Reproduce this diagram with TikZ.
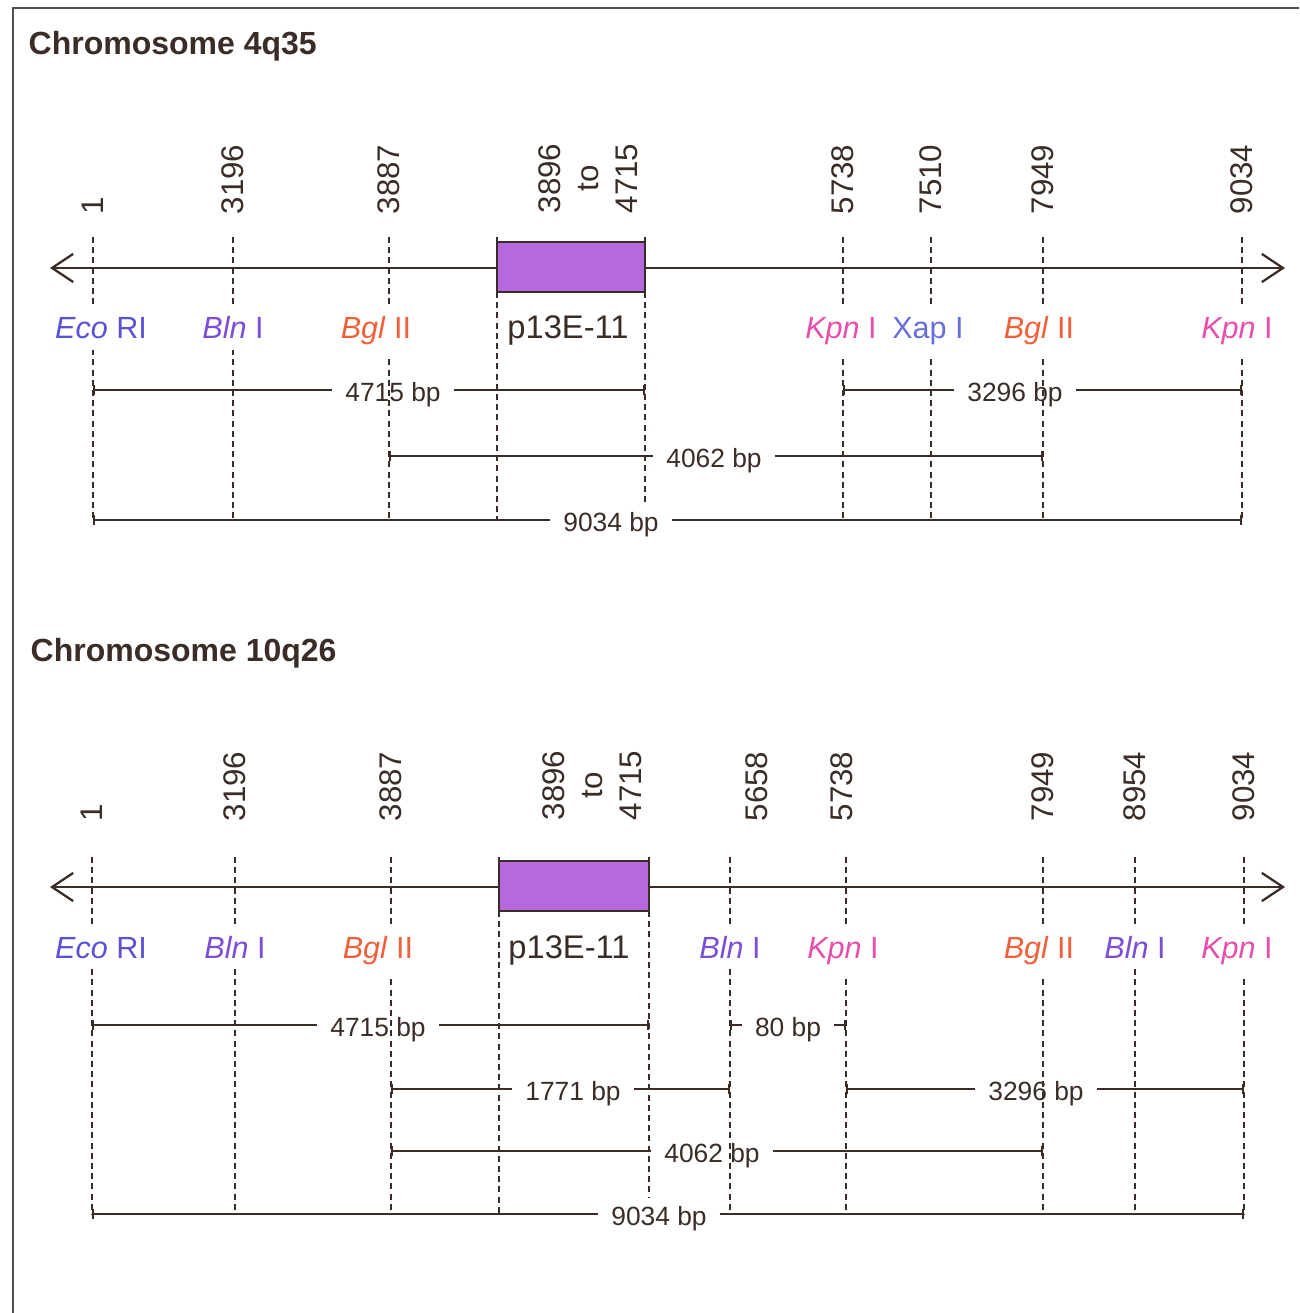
\documentclass[tikz,border=0pt]{standalone}
\usepackage{fontspec}
\setmainfont{Liberation Sans}
\usetikzlibrary{arrows.meta}

\definecolor{ink}{RGB}{58,45,40}
\definecolor{framegray}{RGB}{80,78,78}
\definecolor{genefill}{RGB}{182,104,222}
\definecolor{ecoc}{RGB}{92,82,212}
\definecolor{blnc}{RGB}{124,78,214}
\definecolor{bglc}{RGB}{240,96,58}
\definecolor{kpnc}{RGB}{232,78,172}
\definecolor{xapc}{RGB}{104,112,216}

\begin{document}
\begin{tikzpicture}[x=0.01cm,y=-0.01cm,
  siteline/.style={ink, line width=0.6pt, dash pattern=on 1.7pt off 1.2pt},
  boxedge/.style={ink, line width=0.8pt},
  axisline/.style={ink, line width=0.65pt,
    {Straight Barb[length=6pt,width=8pt,line width=0.65pt]}-{Straight Barb[length=6pt,width=8pt,line width=0.65pt]}},
  genebox/.style={draw=ink, line width=0.8pt, fill=genefill},
  spanline/.style={ink, line width=0.6pt},
  spanstart/.style={spanline, {Bar[width=2.6pt,line width=0.6pt]}-},
  spanend/.style={spanline, -{Bar[width=2.6pt,line width=0.6pt]}},
  maptitle/.style={font=\bfseries\fontsize{9.1}{11}\selectfont, text=ink, anchor=base west, inner sep=0},
  sitepos/.style={font=\fontsize{8.9}{11}\selectfont, text=ink, rotate=90, anchor=west, inner sep=0, align=center},
  enzyme/.style={font=\fontsize{8.7}{10}\selectfont, anchor=base, fill=white, inner xsep=1pt, inner ysep=3pt},
  probe/.style={font=\fontsize{9.3}{11}\selectfont, text=ink, anchor=base, fill=white, inner sep=2pt},
  bplabel/.style={font=\fontsize{7.5}{9}\selectfont, text=ink, anchor=mid, inner xsep=3.5pt, inner ysep=0pt},
]
\useasboundingbox (0,0) rectangle (1299,1313);

% outer frame
\draw[framegray, line width=0.6pt] (13,1313) -- (13,8) -- (1299,8);

% ================= Chromosome 4q35 =================
\node[maptitle] (titleA) at (28,55) {Chromosome 4q35};

\foreach \n/\x in {1/93, 2/233, 3/389, 4/497, 5/645, 6/843, 7/931, 8/1043, 9/1242} {
  \coordinate (At\n) at (\x,237);
  \coordinate (Am\n) at (\x,292);
  \coordinate (Ab\n) at (\x,520);
}
\coordinate (Ab5) at (645,506);

% restriction sites
\foreach \n in {1,2,3,6,7,8,9} { \draw[siteline] (At\n) -- (Ab\n); }
\foreach \n in {4,5} { \draw[siteline] (Am\n) -- (Ab\n); }

% map axis and probe
\coordinate (AL) at (50,268);
\coordinate (AR) at (1285,268);
\draw[axisline] (AL) -- (AR);
\draw[genebox] (497,242) rectangle (645,292);
\draw[boxedge] (At4) -- (Am4);
\draw[boxedge] (At5) -- (Am5);

% positions
\node[sitepos] (An1) at (93,215) {1};
\node[sitepos] (An2) at (233,215) {3196};
\node[sitepos] (An3) at (389,215) {3887};
\node[sitepos] (An4) at (588,214) {3896\\to\\4715};
\node[sitepos] (An6) at (843,215) {5738};
\node[sitepos] (An7) at (931,215) {7510};
\node[sitepos] (An8) at (1043,215) {7949};
\node[sitepos] (An9) at (1242,215) {9034};

% enzymes
\node[enzyme, text=ecoc] (Ae1) at (101,339) {\textit{Eco} RI};
\node[enzyme, text=blnc] (Ae2) at (233,339) {\textit{Bln} I};
\node[enzyme, text=bglc] (Ae3) at (376,339) {\textit{Bgl} II};
\node[probe] (Ae4) at (568,339) {p13E-11};
\node[enzyme, text=kpnc] (Ae6) at (841,339) {\textit{Kpn} I};
\node[enzyme, text=xapc] (Ae7) at (928,339) {Xap I};
\node[enzyme, text=bglc] (Ae8) at (1039,339) {\textit{Bgl} II};
\node[enzyme, text=kpnc] (Ae9) at (1237,339) {\textit{Kpn} I};

% fragment sizes
\coordinate (Ap1) at (93,390);  \coordinate (Aq1) at (645,390);
\node[bplabel] (As1) at (393,392.6) {4715 bp};
\draw[spanstart] (Ap1) -- (Ap1 -| As1.west);
\draw[spanend] (As1.east |- Aq1) -- (Aq1);

\coordinate (Ap2) at (843,390);  \coordinate (Aq2) at (1242,390);
\node[bplabel] (As2) at (1015,392.6) {3296 bp};
\draw[spanstart] (Ap2) -- (Ap2 -| As2.west);
\draw[spanend] (As2.east |- Aq2) -- (Aq2);

\coordinate (Ap3) at (389,456);  \coordinate (Aq3) at (1043,456);
\node[bplabel] (As3) at (714,458.6) {4062 bp};
\draw[spanstart] (Ap3) -- (Ap3 -| As3.west);
\draw[spanend] (As3.east |- Aq3) -- (Aq3);

\coordinate (Ap4) at (93,520);  \coordinate (Aq4) at (1242,520);
\node[bplabel] (As4) at (611,522.6) {9034 bp};
\draw[spanstart] (Ap4) -- (Ap4 -| As4.west);
\draw[spanend] (As4.east |- Aq4) -- (Aq4);

% ================= Chromosome 10q26 =================
\node[maptitle] (titleB) at (30,661) {Chromosome 10q26};

\foreach \n/\x in {1/92, 2/235, 3/391, 4/499, 5/649, 6/730, 7/846, 8/1043, 9/1135, 10/1244} {
  \coordinate (Bt\n) at (\x,857);
  \coordinate (Bm\n) at (\x,911);
  \coordinate (Bb\n) at (\x,1214);
}
\coordinate (Bb5) at (649,1198);

\foreach \n in {1,2,3,6,7,8,9,10} { \draw[siteline] (Bt\n) -- (Bb\n); }
\foreach \n in {4,5} { \draw[siteline] (Bm\n) -- (Bb\n); }

\coordinate (BL) at (50,887);
\coordinate (BR) at (1285,887);
\draw[axisline] (BL) -- (BR);
\draw[genebox] (499,861) rectangle (649,911);
\draw[boxedge] (Bt4) -- (Bm4);
\draw[boxedge] (Bt5) -- (Bm5);

\node[sitepos] (Bn1) at (92,822) {1};
\node[sitepos] (Bn2) at (235,822) {3196};
\node[sitepos] (Bn3) at (391,822) {3887};
\node[sitepos] (Bn4) at (592,821) {3896\\to\\4715};
\node[sitepos] (Bn6) at (757,822) {5658};
\node[sitepos] (Bn7) at (842,822) {5738};
\node[sitepos] (Bn8) at (1043,822) {7949};
\node[sitepos] (Bn9) at (1135,822) {8954};
\node[sitepos] (Bn10) at (1244,822) {9034};

\node[enzyme, text=ecoc] (Be1) at (101,958) {\textit{Eco} RI};
\node[enzyme, text=blnc] (Be2) at (235,958) {\textit{Bln} I};
\node[enzyme, text=bglc] (Be3) at (378,958) {\textit{Bgl} II};
\node[probe] (Be4) at (569,958) {p13E-11};
\node[enzyme, text=blnc] (Be6) at (730,958) {\textit{Bln} I};
\node[enzyme, text=kpnc] (Be7) at (843,958) {\textit{Kpn} I};
\node[enzyme, text=bglc] (Be8) at (1039,958) {\textit{Bgl} II};
\node[enzyme, text=blnc] (Be9) at (1135,958) {\textit{Bln} I};
\node[enzyme, text=kpnc] (Be10) at (1237,958) {\textit{Kpn} I};

\coordinate (Bp1) at (92,1025);  \coordinate (Bq1) at (649,1025);
\node[bplabel] (Bs1) at (378,1027.6) {4715 bp};
\draw[spanstart] (Bp1) -- (Bp1 -| Bs1.west);
\draw[spanend] (Bs1.east |- Bq1) -- (Bq1);

\coordinate (Bp2) at (730,1025);  \coordinate (Bq2) at (846,1025);
\node[bplabel] (Bs2) at (788,1027.6) {80 bp};
\draw[spanstart] (Bp2) -- (Bp2 -| Bs2.west);
\draw[spanend] (Bs2.east |- Bq2) -- (Bq2);

\coordinate (Bp3) at (391,1089);  \coordinate (Bq3) at (730,1089);
\node[bplabel] (Bs3) at (573,1091.6) {1771 bp};
\draw[spanstart] (Bp3) -- (Bp3 -| Bs3.west);
\draw[spanend] (Bs3.east |- Bq3) -- (Bq3);

\coordinate (Bp4) at (846,1089);  \coordinate (Bq4) at (1244,1089);
\node[bplabel] (Bs4) at (1036,1091.6) {3296 bp};
\draw[spanstart] (Bp4) -- (Bp4 -| Bs4.west);
\draw[spanend] (Bs4.east |- Bq4) -- (Bq4);

\coordinate (Bp5) at (391,1151);  \coordinate (Bq5) at (1043,1151);
\node[bplabel] (Bs5) at (712,1153.6) {4062 bp};
\draw[spanstart] (Bp5) -- (Bp5 -| Bs5.west);
\draw[spanend] (Bs5.east |- Bq5) -- (Bq5);

\coordinate (Bp6) at (92,1214);  \coordinate (Bq6) at (1244,1214);
\node[bplabel] (Bs6) at (659,1216.6) {9034 bp};
\draw[spanstart] (Bp6) -- (Bp6 -| Bs6.west);
\draw[spanend] (Bs6.east |- Bq6) -- (Bq6);
\end{tikzpicture}
\end{document}
